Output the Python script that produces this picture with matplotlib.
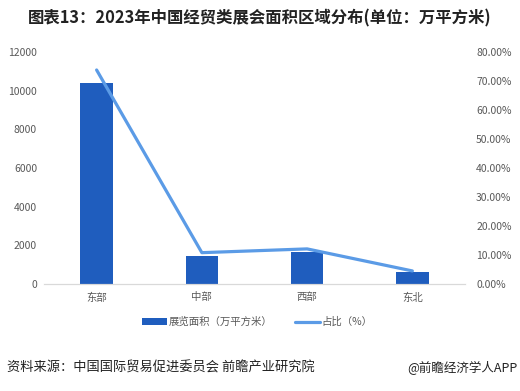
import matplotlib
matplotlib.use("Agg")
import matplotlib.pyplot as plt
import numpy as np

plt.rcParams['font.family'] = ['Noto Sans CJK SC', 'DejaVu Sans']

# data
regions = ['东部', '中部', '西部', '东北']
area = [10400, 1460, 1670, 620]          # 展览面积（万平方米）
share = [73.8, 10.8, 12.1, 4.5]          # 占比（%）

bar_color = '#1F5DBE'
line_color = '#5B9BE6'
tick_color = '#595959'

fig = plt.figure(figsize=(5.2, 3.91), dpi=100)
ax = fig.add_axes([0.0846, 0.2737, 0.8096, 0.5933])
ax2 = ax.twinx()

x = np.arange(len(regions))
bars = ax.bar(x, area, width=0.31, color=bar_color, label='展览面积（万平方米）', zorder=2)
line, = ax2.plot(x, share, color=line_color, lw=2.3, solid_capstyle='round',
                 solid_joinstyle='round', label='占比（%）', zorder=3)

ax.set_xlim(-0.5, len(regions) - 0.5)
ax.set_ylim(0, 12000)
ax.set_yticks(np.arange(0, 12001, 2000))
ax2.set_ylim(0, 80)
ax2.set_yticks(np.arange(0, 81, 10))
ax2.set_yticklabels([f'{v:.2f}%' for v in np.arange(0, 81, 10)])

ax.set_xticks(x)
ax.set_xticklabels(regions)

for a in (ax, ax2):
    for s in ['top', 'left', 'right']:
        a.spines[s].set_visible(False)
    a.spines['bottom'].set_color('#D9D9D9')
    a.tick_params(length=0, labelsize=7.5, colors=tick_color)
ax.tick_params(axis='y', pad=5)
ax2.tick_params(axis='y', pad=8)
ax.tick_params(axis='x', pad=6)
ax2.set_zorder(ax.get_zorder() + 1)
ax2.patch.set_visible(False)

fig.legend([bars, line], ['展览面积（万平方米）', '占比（%）'], loc='center',
           bbox_to_anchor=(0.495, 0.176), ncol=2, frameon=False, fontsize=7.5,
           handlelength=2.4, handleheight=0.6, columnspacing=2.2, handletextpad=0.15,
           labelcolor=tick_color)

fig.text(0.5, 0.953, '图表13：2023年中国经贸类展会面积区域分布(单位：万平方米)',
         ha='center', va='center', fontsize=11.8, fontweight='bold', color='#222222')
fig.text(0.013, 0.058, '资料来源：中国国际贸易促进委员会 前瞻产业研究院',
         ha='left', va='center', fontsize=9.5, color='#222222')
fig.text(0.995, 0.058, '@前瞻经济学人APP',
         ha='right', va='center', fontsize=9, color='#222222')

fig.savefig('out.png', dpi=100)
